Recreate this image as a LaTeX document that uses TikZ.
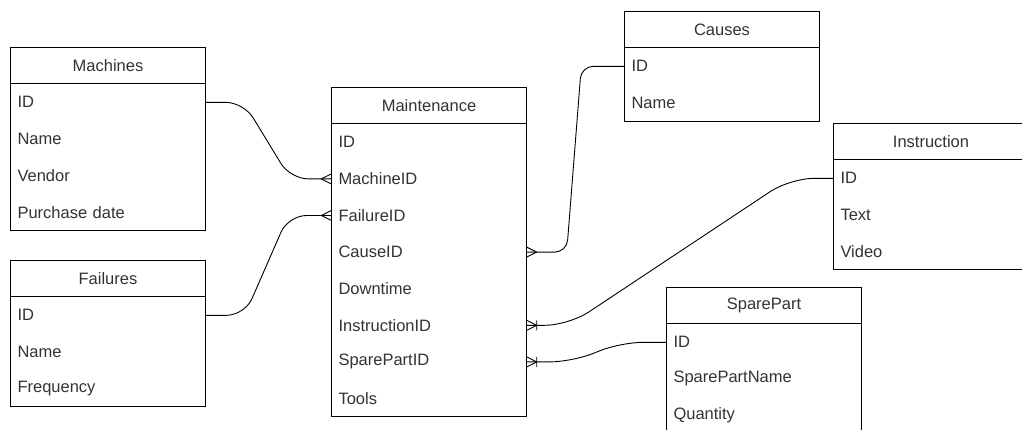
\documentclass[tikz,border=0pt]{standalone}
\usepackage{fontspec}
\setmainfont{Liberation Sans}
\usetikzlibrary{positioning}
\definecolor{txt}{HTML}{333333}
\tikzset{
	head/.style={draw,line width=1pt,minimum width=195,minimum height=36,inner sep=0pt,anchor=north west,text=txt,font=\fontsize{16.5}{19}\selectfont},
	fld/.style={minimum width=195,minimum height=36.2,text width=181,inner xsep=7pt,inner ysep=0pt,align=left,text=txt,font=\fontsize{16.5}{19}\selectfont,below=0pt of #1},
	frame/.style={line width=1pt},
	link/.style={line width=0.9pt,rounded corners=18pt},
	crowmany/.pic={\draw[line width=0.9pt] (-10,0) -- (0,5) (-10,0) -- (0,-5);},
	crowone/.pic={\draw[line width=0.9pt] (-10,0) -- (0,5) (-10,0) -- (0,-5) (-10,5) -- (-10,-5);}
}
\begin{document}
\begin{tikzpicture}[x=1pt,y=-1pt]
	\fill[white] (0,0) rectangle (1022,429);
	\useasboundingbox (0,0) rectangle (1022,429);

	\node[head] (mach) at (10,47) {Machines};
	\node[fld=mach] (mach-id) {ID};
	\node[fld=mach-id] (mach-name) {Name};
	\node[fld=mach-name] (mach-vend) {Vendor};
	\node[fld=mach-vend] (mach-pdate) {Purchase date};
	\draw[frame] (mach.north west) rectangle (mach-pdate.south east);

	\node[head] (fail) at (10,260) {Failures};
	\node[fld=fail] (fail-id) {ID};
	\node[fld=fail-id] (fail-name) {Name};
	\node[fld=fail-name] (fail-freq) {Frequency};
	\draw[frame] (fail.north west) rectangle (fail-freq.south east);

	\node[head] (mnt) at (331,87) {Maintenance};
	\node[fld=mnt] (mnt-id) {ID};
	\node[fld=mnt-id] (mnt-mach) {MachineID};
	\node[fld=mnt-mach] (mnt-fail) {FailureID};
	\node[fld=mnt-fail] (mnt-cause) {CauseID};
	\node[fld=mnt-cause] (mnt-down) {Downtime};
	\node[fld=mnt-down] (mnt-instr) {InstructionID};
	\node[fld=mnt-instr] (mnt-spare) {SparePartID};
	\node[fld=mnt-spare] (mnt-tools) {Tools};
	\draw[frame] (mnt.north west) rectangle (mnt-tools.south east);

	\node[head] (caus) at (624,11) {Causes};
	\node[fld=caus] (caus-id) {ID};
	\node[fld=caus-id] (caus-name) {Name};
	\draw[frame] (caus.north west) rectangle (caus-name.south east);

	\node[head] (inst) at (833,123) {Instruction};
	\node[fld=inst] (inst-id) {ID};
	\node[fld=inst-id] (inst-text) {Text};
	\node[fld=inst-text] (inst-video) {Video};
	\draw[frame] (inst.north west) rectangle (inst-video.south east);

	\node[head] (spar) at (666,287) {SparePart};
	\node[fld=spar] (spar-id) {ID};
	\node[fld=spar-id] (spar-name) {SparePartName};
	\node[fld=spar-name] (spar-qty) {Quantity};
	\draw[frame] (spar.north west) rectangle (spar-qty.south east);

	\draw[link] (mach-id.east) -- ++(38,0) -- ([xshift=-41pt]mnt-mach.west) -- (mnt-mach.west);
	\draw[link] (fail-id.east) -- ++(39,0) -- ([xshift=-43pt]mnt-fail.west) -- (mnt-fail.west);
	\draw[link,rounded corners=12pt] (mnt-cause.east) -- ++(40,0) -- ([xshift=-43pt]caus-id.west) -- (caus-id.west);
	\draw[link,rounded corners=24pt] (mnt-instr.east) -- ++(42,0) -- ([xshift=-43pt]inst-id.west) -- (inst-id.west);
	\draw[link,rounded corners=22pt] (mnt-spare.east) -- ++(45,0) -- ([xshift=-45pt]spar-id.west) -- (spar-id.west);

	\pic at (mnt-mach.west) {crowmany};
	\pic at (mnt-fail.west) {crowmany};
	\pic[rotate=180] at (mnt-cause.east) {crowmany};
	\pic[rotate=180] at (mnt-instr.east) {crowone};
	\pic[rotate=180] at (mnt-spare.east) {crowone};
\end{tikzpicture}
\end{document}
